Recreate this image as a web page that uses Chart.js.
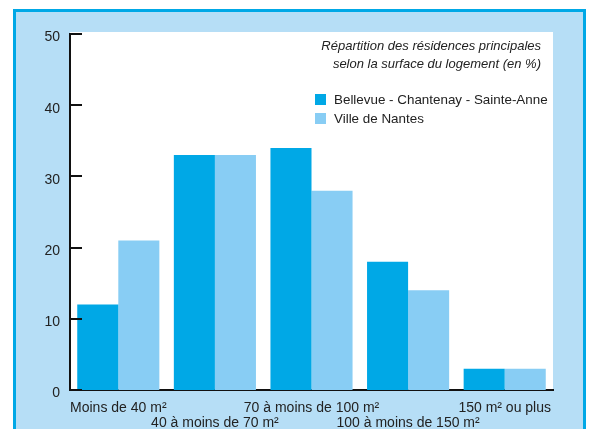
<!DOCTYPE html>
<html>
<head>
<meta charset="utf-8">
<script src="https://cdn.jsdelivr.net/npm/chart.js@4/dist/chart.umd.min.js"></script>
<style>
  html, body { margin:0; padding:0; width:591px; height:429px; overflow:hidden; background:#ffffff; }
  #frame { position:absolute; left:13px; top:9px; width:567px; height:500px; border:3px solid #00a8e6; background:#b6def6; }
  #wrap { position:absolute; left:0; top:0; width:591px; height:429px; }
</style>
</head>
<body>
<div id="frame"></div>
<div id="wrap"><canvas id="c" width="591" height="429"></canvas></div>
<script>
const categories = [
  ['Moins de 40 m²', ''],
  ['', '40 à moins de 70 m²'],
  ['70 à moins de 100 m²', ''],
  ['', '100 à moins de 150 m²'],
  ['150 m² ou plus', '']
];
const seriesNames = ['Bellevue - Chantenay - Sainte-Anne', 'Ville de Nantes'];
const bellevue = [12, 33, 34, 18, 3];
const nantes = [21, 33, 28, 14, 3];
const yTicks = [0, 10, 20, 30, 40, 50];
const legendTitle = ['Répartition des résidences principales', 'selon la surface du logement (en %)'];

const FONT = "'Liberation Sans', Arial, sans-serif";

const whiteArea = {
  id: 'whiteArea',
  beforeDraw(chart) {
    const {ctx, chartArea:a} = chart;
    ctx.save();
    ctx.fillStyle = '#ffffff';
    ctx.fillRect(a.left, a.top - 2, a.right - a.left, a.bottom - a.top + 2);
    ctx.restore();
  }
};

const tickMarks = {
  id: 'tickMarks',
  afterDraw(chart) {
    const {ctx, chartArea:a} = chart;
    const y = chart.scales.y;
    ctx.save();
    ctx.strokeStyle = '#111';
    ctx.lineWidth = 2;
    yTicks.forEach(v => {
      const py = Math.round(y.getPixelForValue(v));
      ctx.beginPath();
      ctx.moveTo(a.left, py);
      ctx.lineTo(a.left + 12, py);
      ctx.stroke();
    });
    ctx.restore();
  }
};

const customLegend = {
  id: 'customLegend',
  afterDraw(chart) {
    const {ctx} = chart;
    ctx.save();
    ctx.fillStyle = '#222';
    ctx.textBaseline = 'middle';
    ctx.textAlign = 'right';
    ctx.font = "italic 13px " + FONT;
    ctx.fillText(legendTitle[0], 541, 46);
    ctx.fillText(legendTitle[1], 541, 64);
    ctx.textAlign = 'left';
    ctx.font = "13.4px " + FONT;
    chart.data.datasets.forEach((ds, i) => {
      const cy = 100 + i * 19;
      ctx.fillStyle = ds.backgroundColor;
      ctx.fillRect(315, cy - 6, 11, 11);
      ctx.fillStyle = '#222';
      ctx.fillText(ds.label, 334, cy);
    });
    ctx.restore();
  }
};

new Chart(document.getElementById('c'), {
  type: 'bar',
  data: {
    labels: categories,
    datasets: [
      { label: seriesNames[0], data: bellevue, backgroundColor: '#00a8e6', categoryPercentage: 0.85, barPercentage: 1.0, borderWidth: 0 },
      { label: seriesNames[1], data: nantes, backgroundColor: '#88cdf4', categoryPercentage: 0.85, barPercentage: 1.0, borderWidth: 0 }
    ]
  },
  options: {
    responsive: false,
    animation: false,
    layout: { padding: { left: 0, top: 34, right: 38, bottom: 0 } },
    plugins: { legend: { display: false }, tooltip: { enabled: false }, title: { display: false } },
    scales: {
      x: {
        grid: { display: false, drawTicks: false },
        border: { display: true, color: '#111', width: 2 },
        ticks: { color: '#222', font: { family: FONT, size: 14, lineHeight: 1.1 }, padding: 10, maxRotation: 0, autoSkip: false },
        afterFit(s) { s.height = 39; }
      },
      y: {
        min: 0, max: 50,
        afterBuildTicks(s) { s.ticks = yTicks.map(v => ({ value: v })); },
        grid: { display: false, drawTicks: false },
        border: { display: true, color: '#111', width: 2 },
        ticks: { color: '#222', font: { family: FONT, size: 14, lineHeight: 0.5 }, padding: 10,
                 callback: v => ['', String(v)] },
        afterFit(s) { s.width = 70; }
      }
    }
  },
  plugins: [whiteArea, tickMarks, customLegend]
});
</script>
</body>
</html>
